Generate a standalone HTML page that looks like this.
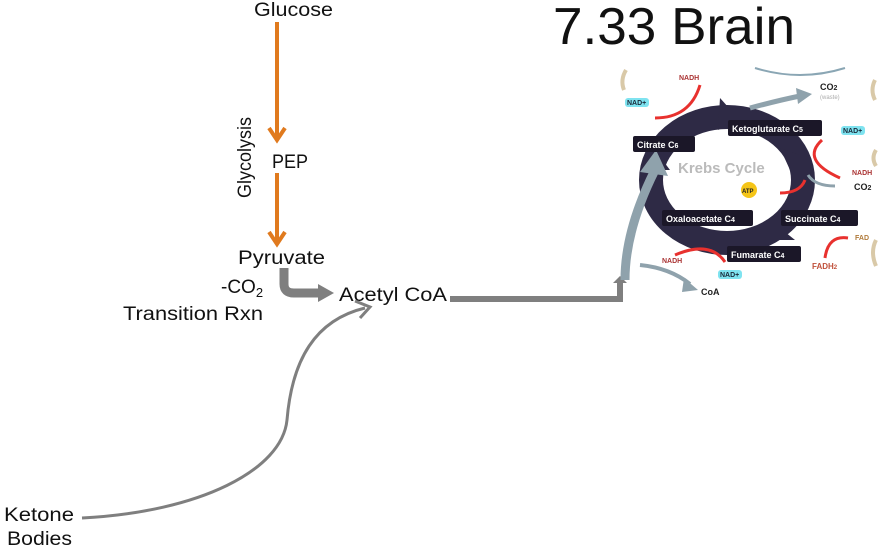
<!DOCTYPE html>
<html><head><meta charset="utf-8"><style>
html,body{margin:0;padding:0;background:#fff;}
svg{display:block;}
text{font-family:"Liberation Sans",sans-serif;}
</style></head><body>
<svg width="879" height="549" viewBox="0 0 879 549" xmlns="http://www.w3.org/2000/svg">
<!-- left labels -->
<g fill="#111" font-size="19">
<text x="254" y="16" textLength="79" lengthAdjust="spacingAndGlyphs">Glucose</text>
<text x="272" y="168" textLength="36" lengthAdjust="spacingAndGlyphs">PEP</text>
<text x="238" y="264" textLength="87" lengthAdjust="spacingAndGlyphs">Pyruvate</text>
<text x="221" y="293">-CO<tspan font-size="13" dy="4">2</tspan></text>
<text x="123" y="320" textLength="140" lengthAdjust="spacingAndGlyphs">Transition Rxn</text>
<text x="339" y="301" textLength="108" lengthAdjust="spacingAndGlyphs">Acetyl CoA</text>
<text x="4" y="521" textLength="70" lengthAdjust="spacingAndGlyphs">Ketone</text>
<text x="7" y="545" textLength="65" lengthAdjust="spacingAndGlyphs">Bodies</text>
<text transform="translate(251,198) rotate(-90)" textLength="81" lengthAdjust="spacingAndGlyphs">Glycolysis</text>
</g>
<text x="553" y="44" font-size="52" fill="#111" textLength="242" lengthAdjust="spacingAndGlyphs">7.33 Brain</text>
<!-- orange arrows -->
<g stroke="#e07a1e" stroke-width="4" fill="none">
<line x1="277" y1="22" x2="277" y2="138"/>
<polyline points="269,128 277,140 285,128"/>
<line x1="277" y1="173" x2="277" y2="242"/>
<polyline points="269,232 277,244 285,232"/>
</g>
<!-- transition arrow -->
<path d="M284,268 L284,284 Q284,293 294,293 L320,293" stroke="#7f7f7f" stroke-width="9" fill="none"/>
<polygon points="318,284 334,293 318,302" fill="#7f7f7f"/>
<!-- ketone curve -->
<path d="M82,518 C200,512 282,470 287,420 C292,360 315,320 365,308" stroke="#7f7f7f" stroke-width="3" fill="none"/>
<polyline points="355,301 370,307 360,318" stroke="#7f7f7f" stroke-width="3" fill="none"/>
<!-- acetyl line -->
<polyline points="450,299 620,299 620,282" stroke="#7f7f7f" stroke-width="6" fill="none"/>
<polygon points="613,283 620,276 627,283" fill="#7f7f7f"/>
<!-- Krebs image -->
<g>
<path d="M626,70 q-6,10 -2,20" stroke="#d9c9a8" stroke-width="4" fill="none"/>
<path d="M875,80 q-5,10 0,20 M876,150 q-5,8 0,16 M876,240 q-6,12 0,26" stroke="#d9c9a8" stroke-width="4" fill="none"/>
<path d="M755,68 Q800,82 845,68" stroke="#8aa6b4" stroke-width="2" fill="none"/>
<ellipse cx="727" cy="180" rx="76" ry="63" fill="none" stroke="#2e2a45" stroke-width="24"/>
<polygon points="720,98 738,118 718,130" fill="#2e2a45"/>
<polygon points="780,148 800,155 790,170" fill="#2e2a45"/>
<polygon points="770,220 795,240 765,240" fill="#2e2a45"/>
<polygon points="640,170 655,150 670,170" fill="#2e2a45"/>
<path d="M625,280 C625,240 640,200 655,170" stroke="#8fa2ac" stroke-width="9" fill="none"/>
<polygon points="640,172 656,150 668,176" fill="#8fa2ac"/>
<path d="M640,265 Q670,268 690,284" stroke="#8fa2ac" stroke-width="4" fill="none"/>
<polygon points="684,278 698,290 682,292" fill="#8fa2ac"/>
<path d="M750,108 Q780,100 800,96" stroke="#8fa2ac" stroke-width="5" fill="none"/>
<polygon points="796,88 812,94 798,104" fill="#8fa2ac"/>
<path d="M808,175 Q815,186 835,186" stroke="#8fa2ac" stroke-width="3" fill="none"/>
<g stroke="#e8312e" stroke-width="3" fill="none">
<path d="M655,118 Q690,118 700,85"/>
<path d="M822,140 Q800,160 840,178"/>
<path d="M805,180 Q800,193 780,193"/>
<path d="M725,262 Q710,240 675,255"/>
<path d="M848,238 Q828,235 825,258"/>
</g>
<g fill="#1b1728">
<rect x="633" y="136" width="62" height="16" rx="2"/>
<rect x="728" y="120" width="94" height="16" rx="2"/>
<rect x="662" y="210" width="91" height="16" rx="2"/>
<rect x="781" y="210" width="77" height="16" rx="2"/>
<rect x="727" y="246" width="74" height="16" rx="2"/>
</g>
<g fill="#fff" font-size="9" font-weight="bold">
<text x="637" y="148">Citrate C<tspan font-size="7">6</tspan></text>
<text x="732" y="132">Ketoglutarate C<tspan font-size="7">5</tspan></text>
<text x="666" y="222">Oxaloacetate C<tspan font-size="7">4</tspan></text>
<text x="785" y="222">Succinate C<tspan font-size="7">4</tspan></text>
<text x="731" y="258">Fumarate C<tspan font-size="7">4</tspan></text>
</g>
<text x="678" y="173" font-size="15" font-weight="bold" fill="#bbb">Krebs Cycle</text>
<circle cx="749" cy="190" r="8" fill="#f5c518"/>
<text x="742" y="193" font-size="6" font-weight="bold" fill="#222">ATP</text>
<g font-size="7" font-weight="bold">
<rect x="625" y="98" width="24" height="9" rx="3" fill="#7fe3f0"/><text x="627" y="105" fill="#1a2a3a">NAD+</text>
<rect x="841" y="126" width="24" height="9" rx="3" fill="#7fe3f0"/><text x="843" y="133" fill="#1a2a3a">NAD+</text>
<rect x="718" y="270" width="24" height="9" rx="3" fill="#7fe3f0"/><text x="720" y="277" fill="#1a2a3a">NAD+</text>
<text x="679" y="80" fill="#a33">NADH</text>
<text x="852" y="175" fill="#a33">NADH</text>
<text x="662" y="263" fill="#a33">NADH</text>
<text x="855" y="240" fill="#b07a3a">FAD</text>
<text x="812" y="269" fill="#c0503a" font-size="8">FADH<tspan font-size="6">2</tspan></text>
<text x="820" y="90" fill="#222" font-size="9">CO<tspan font-size="7">2</tspan></text>
<text x="820" y="99" fill="#aaa" font-size="6" font-weight="normal">(waste)</text>
<text x="854" y="190" fill="#222" font-size="9">CO<tspan font-size="7">2</tspan></text>
<text x="701" y="295" fill="#222" font-size="9">CoA</text>
</g>
</g>
</svg>
</body></html>
